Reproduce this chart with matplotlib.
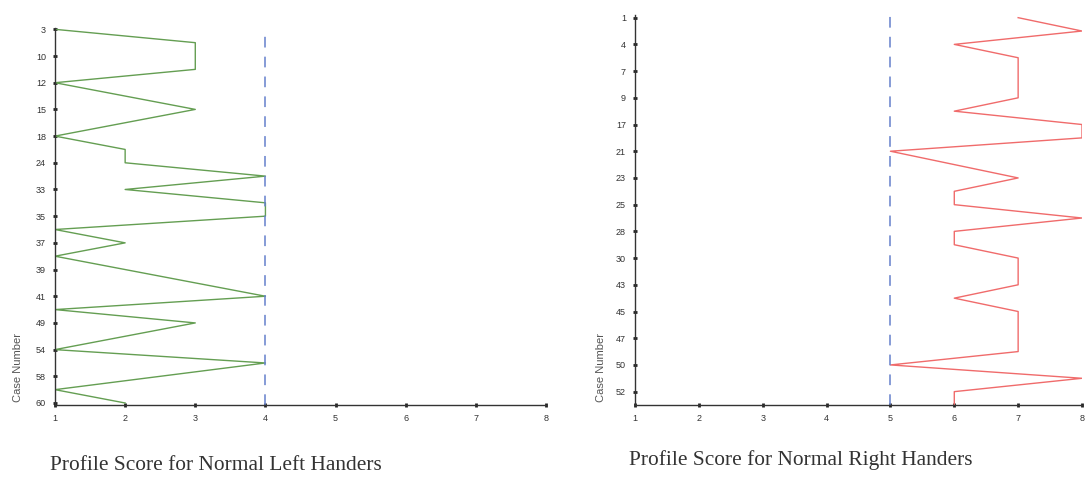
import numpy as np
import matplotlib.pyplot as plt

# profile scores, one value per case in sequence order
left_scores = [1, 3, 3, 3, 1, 2, 3, 2, 1, 2, 2, 4, 2, 4, 4, 1, 2, 1, 2, 3,
               4, 1, 3, 2, 1, 4, 2.5, 1, 2]
left_case_labels = ['3', '10', '12', '15', '18', '24', '33', '35', '37', '39',
                    '41', '49', '54', '58', '60']
left_cutoff = 4

right_scores = [7, 8, 6, 7, 7, 7, 7, 6, 8, 8, 5, 6, 7, 6, 6, 8, 6, 6, 7, 7,
                7, 6, 7, 7, 7, 7, 5, 8, 6, 6]
right_case_labels = ['1', '4', '7', '9', '17', '21', '23', '25', '28', '30',
                     '43', '45', '47', '50', '52']
right_cutoff = 5

score_ticks = [1, 2, 3, 4, 5, 6, 7, 8]

W, H = 1086, 480
fig = plt.figure(figsize=(W / 100, H / 100), dpi=100)
fig.patch.set_facecolor('white')


def px_axes(left, top, right, bottom):
    return fig.add_axes([left / W, 1 - bottom / H, (right - left) / W, (bottom - top) / H])


def profile(ax, scores, labels, cutoff, color, ylim):
    seq = np.arange(len(scores))
    ax.plot(scores, seq, color=color, lw=1.0)
    ax.axvline(cutoff, color='#6580cc', lw=1.1, dashes=(7, 6))
    ax.set_xlim(1, 8)
    ax.set_ylim(*ylim)
    ax.set_xticks(score_ticks)
    ax.set_yticks(np.arange(0, 2 * len(labels), 2))
    ax.set_yticklabels(labels)
    for s in ['top', 'right']:
        ax.spines[s].set_visible(False)
    for s in ['left', 'bottom']:
        ax.spines[s].set_color('#333333')
        ax.spines[s].set_linewidth(1.0)
    ax.tick_params(direction='inout', length=3, width=2, color='#222222',
                   labelsize=6.5, labelcolor='#333333', pad=5,
                   labelfontfamily='Liberation Sans')
    ax.set_facecolor('none')


ax1 = px_axes(55, 28, 546, 405)
profile(ax1, left_scores, left_case_labels, left_cutoff, '#649e52', (28.15, -0.1))

ax2 = px_axes(635, 15, 1082, 405)
profile(ax2, right_scores, right_case_labels, right_cutoff, '#f06b6b', (29.0, -0.2))

for x in [18, 601]:
    fig.text(x / W, 1 - 367 / H, 'Case Number', rotation=90, ha='center', va='center',
             fontsize=8, color='#555555', family='Liberation Sans')

fig.text(216 / W, 1 - 466 / H, 'Profile Score for Normal Left Handers',
         ha='center', va='center', fontsize=15.4, color='#333333', family='Liberation Serif')
fig.text(801 / W, 1 - 460 / H, 'Profile Score for Normal Right Handers',
         ha='center', va='center', fontsize=15.4, color='#333333', family='Liberation Serif')

fig.savefig('out.png', dpi=100)
